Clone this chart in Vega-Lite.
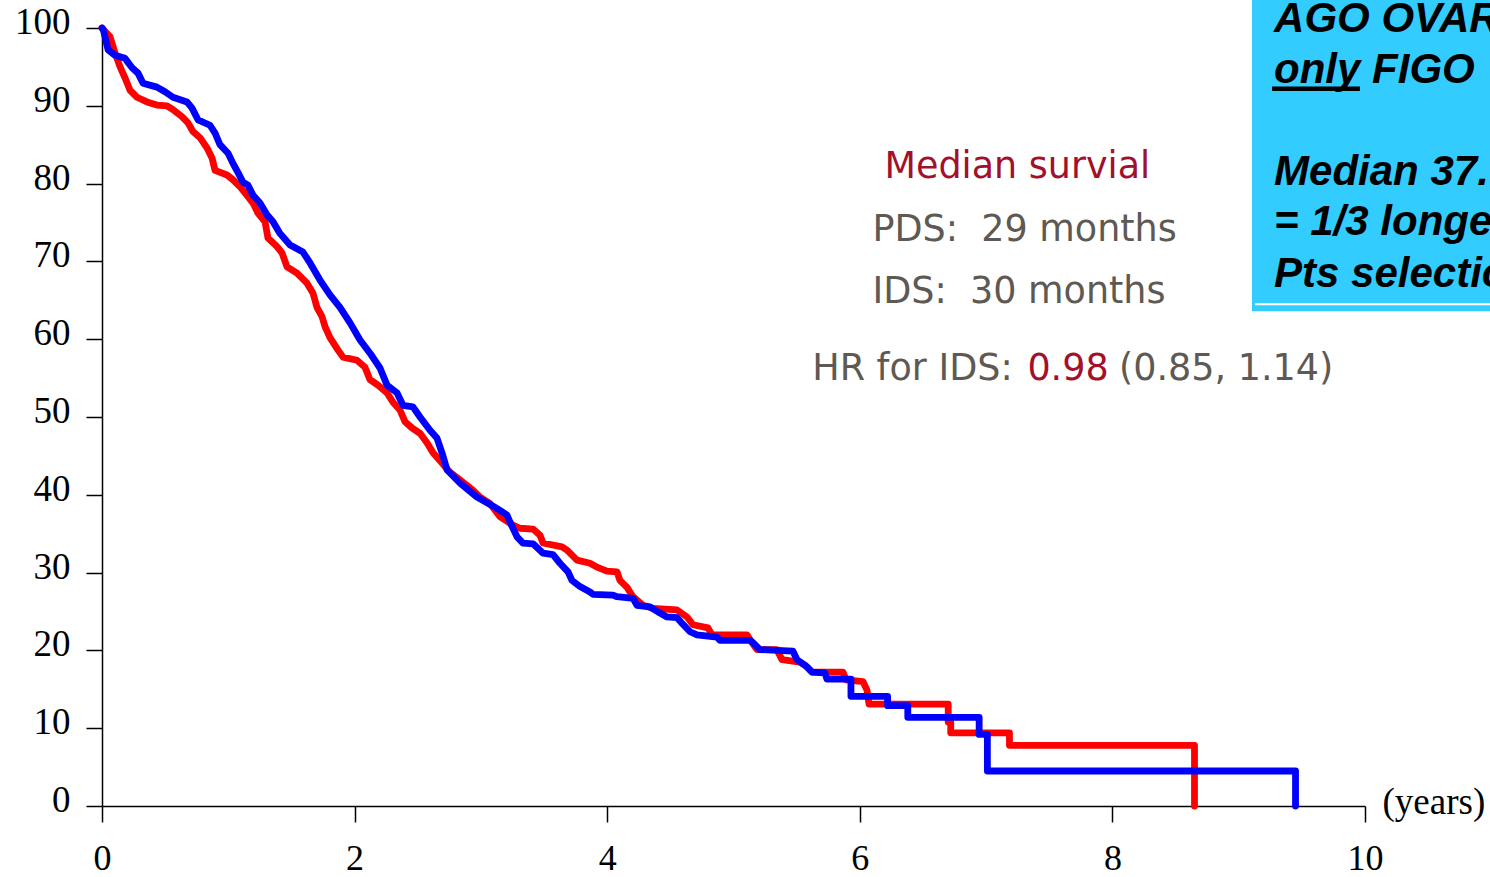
{
  "$schema": "https://vega.github.io/schema/vega-lite/v6.json",
  "width": 1263,
  "height": 778,
  "autosize": {"type": "none"},
  "padding": {"left": 102, "top": 28, "right": 125, "bottom": 71},
  "background": "white",
  "config": {
    "view": {"stroke": null},
    "axis": {
      "grid": false,
      "domainColor": "#000000",
      "domainWidth": 1.5,
      "tickColor": "#000000",
      "tickWidth": 1.5,
      "tickSize": 16,
      "labelFont": "Liberation Serif",
      "labelFontSize": 37,
      "labelColor": "#000000",
      "labelOverlap": false,
      "labelFlush": false
    }
  },
  "datasets": {
    "survival": [
      {"arm": "PDS", "year": 0, "pct": 100},
      {"arm": "PDS", "year": 0.063, "pct": 98.9},
      {"arm": "PDS", "year": 0.103, "pct": 96.8},
      {"arm": "PDS", "year": 0.143, "pct": 95.0},
      {"arm": "PDS", "year": 0.182, "pct": 93.6},
      {"arm": "PDS", "year": 0.222, "pct": 92.0},
      {"arm": "PDS", "year": 0.277, "pct": 91.1},
      {"arm": "PDS", "year": 0.356, "pct": 90.5},
      {"arm": "PDS", "year": 0.435, "pct": 90.1},
      {"arm": "PDS", "year": 0.515, "pct": 90.0},
      {"arm": "PDS", "year": 0.562, "pct": 89.5},
      {"arm": "PDS", "year": 0.633, "pct": 88.6},
      {"arm": "PDS", "year": 0.681, "pct": 87.8},
      {"arm": "PDS", "year": 0.72, "pct": 86.7},
      {"arm": "PDS", "year": 0.776, "pct": 85.9},
      {"arm": "PDS", "year": 0.831, "pct": 84.6},
      {"arm": "PDS", "year": 0.871, "pct": 83.3},
      {"arm": "PDS", "year": 0.895, "pct": 81.7},
      {"arm": "PDS", "year": 0.99, "pct": 81.1},
      {"arm": "PDS", "year": 1.037, "pct": 80.5},
      {"arm": "PDS", "year": 1.093, "pct": 79.6},
      {"arm": "PDS", "year": 1.148, "pct": 78.5},
      {"arm": "PDS", "year": 1.196, "pct": 77.5},
      {"arm": "PDS", "year": 1.235, "pct": 76.2},
      {"arm": "PDS", "year": 1.291, "pct": 75.1},
      {"arm": "PDS", "year": 1.314, "pct": 73.0},
      {"arm": "PDS", "year": 1.386, "pct": 71.9},
      {"arm": "PDS", "year": 1.425, "pct": 71.1},
      {"arm": "PDS", "year": 1.465, "pct": 69.3},
      {"arm": "PDS", "year": 1.544, "pct": 68.5},
      {"arm": "PDS", "year": 1.623, "pct": 67.2},
      {"arm": "PDS", "year": 1.671, "pct": 65.9},
      {"arm": "PDS", "year": 1.702, "pct": 64.1},
      {"arm": "PDS", "year": 1.742, "pct": 62.9},
      {"arm": "PDS", "year": 1.766, "pct": 61.6},
      {"arm": "PDS", "year": 1.805, "pct": 60.2},
      {"arm": "PDS", "year": 1.869, "pct": 58.6},
      {"arm": "PDS", "year": 1.908, "pct": 57.7},
      {"arm": "PDS", "year": 2.019, "pct": 57.3},
      {"arm": "PDS", "year": 2.082, "pct": 56.4},
      {"arm": "PDS", "year": 2.122, "pct": 54.8},
      {"arm": "PDS", "year": 2.185, "pct": 54.1},
      {"arm": "PDS", "year": 2.257, "pct": 53.1},
      {"arm": "PDS", "year": 2.304, "pct": 51.9},
      {"arm": "PDS", "year": 2.359, "pct": 50.9},
      {"arm": "PDS", "year": 2.399, "pct": 49.4},
      {"arm": "PDS", "year": 2.454, "pct": 48.6},
      {"arm": "PDS", "year": 2.518, "pct": 47.9},
      {"arm": "PDS", "year": 2.573, "pct": 46.7},
      {"arm": "PDS", "year": 2.621, "pct": 45.4},
      {"arm": "PDS", "year": 2.692, "pct": 44.1},
      {"arm": "PDS", "year": 2.755, "pct": 42.9},
      {"arm": "PDS", "year": 2.835, "pct": 41.9},
      {"arm": "PDS", "year": 2.937, "pct": 40.6},
      {"arm": "PDS", "year": 2.993, "pct": 39.7},
      {"arm": "PDS", "year": 3.07, "pct": 38.9},
      {"arm": "PDS", "year": 3.151, "pct": 37.2},
      {"arm": "PDS", "year": 3.254, "pct": 36.1},
      {"arm": "PDS", "year": 3.31, "pct": 35.7},
      {"arm": "PDS", "year": 3.413, "pct": 35.6},
      {"arm": "PDS", "year": 3.468, "pct": 34.8},
      {"arm": "PDS", "year": 3.492, "pct": 33.8},
      {"arm": "PDS", "year": 3.642, "pct": 33.3},
      {"arm": "PDS", "year": 3.682, "pct": 32.9},
      {"arm": "PDS", "year": 3.761, "pct": 31.6},
      {"arm": "PDS", "year": 3.864, "pct": 31.2},
      {"arm": "PDS", "year": 3.919, "pct": 30.7},
      {"arm": "PDS", "year": 3.998, "pct": 30.2},
      {"arm": "PDS", "year": 4.078, "pct": 30.1},
      {"arm": "PDS", "year": 4.101, "pct": 29.0},
      {"arm": "PDS", "year": 4.157, "pct": 28.1},
      {"arm": "PDS", "year": 4.204, "pct": 26.9},
      {"arm": "PDS", "year": 4.284, "pct": 25.8},
      {"arm": "PDS", "year": 4.363, "pct": 25.4},
      {"arm": "PDS", "year": 4.553, "pct": 25.2},
      {"arm": "PDS", "year": 4.632, "pct": 24.3},
      {"arm": "PDS", "year": 4.679, "pct": 23.3},
      {"arm": "PDS", "year": 4.798, "pct": 22.9},
      {"arm": "PDS", "year": 4.83, "pct": 22.0},
      {"arm": "PDS", "year": 5.107, "pct": 22.0},
      {"arm": "PDS", "year": 5.146, "pct": 21.0},
      {"arm": "PDS", "year": 5.186, "pct": 20.1},
      {"arm": "PDS", "year": 5.344, "pct": 20.1},
      {"arm": "PDS", "year": 5.384, "pct": 18.8},
      {"arm": "PDS", "year": 5.526, "pct": 18.5},
      {"arm": "PDS", "year": 5.582, "pct": 17.9},
      {"arm": "PDS", "year": 5.622, "pct": 17.2},
      {"arm": "PDS", "year": 5.867, "pct": 17.2},
      {"arm": "PDS", "year": 5.891, "pct": 16.2},
      {"arm": "PDS", "year": 6.025, "pct": 16.0},
      {"arm": "PDS", "year": 6.057, "pct": 14.9},
      {"arm": "PDS", "year": 6.073, "pct": 13.1},
      {"arm": "PDS", "year": 6.7, "pct": 13.1},
      {"arm": "PDS", "year": 6.7, "pct": 10.8},
      {"arm": "PDS", "year": 6.72, "pct": 10.8},
      {"arm": "PDS", "year": 6.72, "pct": 9.4},
      {"arm": "PDS", "year": 7.185, "pct": 9.4},
      {"arm": "PDS", "year": 7.185, "pct": 7.8},
      {"arm": "PDS", "year": 8.65, "pct": 7.8},
      {"arm": "PDS", "year": 8.65, "pct": 0},
      {"arm": "IDS", "year": 0, "pct": 100},
      {"arm": "IDS", "year": 0.01, "pct": 99.8},
      {"arm": "IDS", "year": 0.048, "pct": 97.2},
      {"arm": "IDS", "year": 0.103, "pct": 96.5},
      {"arm": "IDS", "year": 0.182, "pct": 96.1},
      {"arm": "IDS", "year": 0.238, "pct": 94.9},
      {"arm": "IDS", "year": 0.285, "pct": 94.2},
      {"arm": "IDS", "year": 0.325, "pct": 92.9},
      {"arm": "IDS", "year": 0.435, "pct": 92.4},
      {"arm": "IDS", "year": 0.499, "pct": 91.8},
      {"arm": "IDS", "year": 0.562, "pct": 91.1},
      {"arm": "IDS", "year": 0.673, "pct": 90.5},
      {"arm": "IDS", "year": 0.713, "pct": 89.7},
      {"arm": "IDS", "year": 0.76, "pct": 88.2},
      {"arm": "IDS", "year": 0.855, "pct": 87.5},
      {"arm": "IDS", "year": 0.895, "pct": 86.5},
      {"arm": "IDS", "year": 0.934, "pct": 85.0},
      {"arm": "IDS", "year": 0.998, "pct": 83.9},
      {"arm": "IDS", "year": 1.037, "pct": 82.6},
      {"arm": "IDS", "year": 1.077, "pct": 81.4},
      {"arm": "IDS", "year": 1.116, "pct": 80.2},
      {"arm": "IDS", "year": 1.156, "pct": 79.8},
      {"arm": "IDS", "year": 1.196, "pct": 78.5},
      {"arm": "IDS", "year": 1.251, "pct": 77.5},
      {"arm": "IDS", "year": 1.306, "pct": 76.0},
      {"arm": "IDS", "year": 1.354, "pct": 75.1},
      {"arm": "IDS", "year": 1.409, "pct": 73.6},
      {"arm": "IDS", "year": 1.489, "pct": 72.1},
      {"arm": "IDS", "year": 1.591, "pct": 71.2},
      {"arm": "IDS", "year": 1.647, "pct": 69.8},
      {"arm": "IDS", "year": 1.726, "pct": 67.6},
      {"arm": "IDS", "year": 1.805, "pct": 65.7},
      {"arm": "IDS", "year": 1.884, "pct": 64.1},
      {"arm": "IDS", "year": 1.964, "pct": 62.1},
      {"arm": "IDS", "year": 2.043, "pct": 59.9},
      {"arm": "IDS", "year": 2.122, "pct": 58.2},
      {"arm": "IDS", "year": 2.201, "pct": 56.3},
      {"arm": "IDS", "year": 2.257, "pct": 54.1},
      {"arm": "IDS", "year": 2.336, "pct": 53.1},
      {"arm": "IDS", "year": 2.383, "pct": 51.5},
      {"arm": "IDS", "year": 2.462, "pct": 51.3},
      {"arm": "IDS", "year": 2.518, "pct": 50.0},
      {"arm": "IDS", "year": 2.597, "pct": 48.3},
      {"arm": "IDS", "year": 2.652, "pct": 47.3},
      {"arm": "IDS", "year": 2.692, "pct": 45.4},
      {"arm": "IDS", "year": 2.732, "pct": 43.2},
      {"arm": "IDS", "year": 2.835, "pct": 41.5},
      {"arm": "IDS", "year": 2.969, "pct": 39.7},
      {"arm": "IDS", "year": 3.08, "pct": 38.7},
      {"arm": "IDS", "year": 3.151, "pct": 38.0},
      {"arm": "IDS", "year": 3.207, "pct": 37.4},
      {"arm": "IDS", "year": 3.23, "pct": 36.5},
      {"arm": "IDS", "year": 3.286, "pct": 34.6},
      {"arm": "IDS", "year": 3.333, "pct": 33.8},
      {"arm": "IDS", "year": 3.413, "pct": 33.7},
      {"arm": "IDS", "year": 3.492, "pct": 32.5},
      {"arm": "IDS", "year": 3.571, "pct": 32.3},
      {"arm": "IDS", "year": 3.626, "pct": 31.2},
      {"arm": "IDS", "year": 3.69, "pct": 30.1},
      {"arm": "IDS", "year": 3.721, "pct": 29.0},
      {"arm": "IDS", "year": 3.785, "pct": 28.2},
      {"arm": "IDS", "year": 3.864, "pct": 27.5},
      {"arm": "IDS", "year": 3.888, "pct": 27.2},
      {"arm": "IDS", "year": 4.046, "pct": 27.1},
      {"arm": "IDS", "year": 4.078, "pct": 26.9},
      {"arm": "IDS", "year": 4.204, "pct": 26.7},
      {"arm": "IDS", "year": 4.236, "pct": 25.8},
      {"arm": "IDS", "year": 4.339, "pct": 25.6},
      {"arm": "IDS", "year": 4.418, "pct": 24.8},
      {"arm": "IDS", "year": 4.473, "pct": 24.3},
      {"arm": "IDS", "year": 4.553, "pct": 24.2},
      {"arm": "IDS", "year": 4.592, "pct": 23.5},
      {"arm": "IDS", "year": 4.656, "pct": 22.4},
      {"arm": "IDS", "year": 4.711, "pct": 22.0},
      {"arm": "IDS", "year": 4.869, "pct": 21.7},
      {"arm": "IDS", "year": 4.893, "pct": 21.3},
      {"arm": "IDS", "year": 5.131, "pct": 21.3},
      {"arm": "IDS", "year": 5.154, "pct": 21.0},
      {"arm": "IDS", "year": 5.21, "pct": 20.1},
      {"arm": "IDS", "year": 5.471, "pct": 19.9},
      {"arm": "IDS", "year": 5.503, "pct": 18.8},
      {"arm": "IDS", "year": 5.566, "pct": 18.1},
      {"arm": "IDS", "year": 5.622, "pct": 17.2},
      {"arm": "IDS", "year": 5.724, "pct": 17.1},
      {"arm": "IDS", "year": 5.74, "pct": 16.3},
      {"arm": "IDS", "year": 5.93, "pct": 16.3},
      {"arm": "IDS", "year": 5.93, "pct": 14.1},
      {"arm": "IDS", "year": 6.22, "pct": 14.1},
      {"arm": "IDS", "year": 6.22, "pct": 12.9},
      {"arm": "IDS", "year": 6.38, "pct": 12.9},
      {"arm": "IDS", "year": 6.38, "pct": 11.4},
      {"arm": "IDS", "year": 6.945, "pct": 11.4},
      {"arm": "IDS", "year": 6.945, "pct": 9.2},
      {"arm": "IDS", "year": 7.01, "pct": 9.2},
      {"arm": "IDS", "year": 7.01, "pct": 4.5},
      {"arm": "IDS", "year": 9.45, "pct": 4.5},
      {"arm": "IDS", "year": 9.45, "pct": 0}
    ],
    "greyNotes": [
      {"text": "PDS:\u00a0\u00a029 months", "year": 6.1, "pct": 72.66},
      {"text": "IDS:\u00a0\u00a030 months", "year": 6.1, "pct": 64.61},
      {"text": "HR for IDS:", "year": 5.623, "pct": 54.76},
      {"text": "(0.85, 1.14)", "year": 8.052, "pct": 54.76}
    ],
    "redNotes": [
      {"text": "Median survial", "year": 6.195, "pct": 80.68},
      {"text": "0.98", "year": 7.327, "pct": 54.76}
    ],
    "boxLines": [
      {"text": "AGO OVAR", "year": 9.28, "pct": 99.5},
      {"text": "only FIGO", "year": 9.28, "pct": 92.9},
      {"text": "Median 37.", "year": 9.28, "pct": 79.8},
      {"text": "= 1/3 longer", "year": 9.28, "pct": 73.4},
      {"text": "Pts selection", "year": 9.28, "pct": 66.7}
    ]
  },
  "encoding": {
    "x": {
      "field": "year",
      "type": "quantitative",
      "scale": {"domain": [0, 10], "nice": false, "zero": false},
      "axis": {
        "values": [0, 2, 4, 6, 8, 10],
        "labelPadding": 19,
        "labelFontSize": 36,
        "title": "(years)",
        "titleFont": "Liberation Serif",
        "titleFontSize": 37,
        "titleFontWeight": "normal",
        "titleColor": "#000000",
        "titleAlign": "left",
        "titleBaseline": "middle",
        "titleAngle": 0,
        "titleX": 1280,
        "titleY": -4
      }
    },
    "y": {
      "field": "pct",
      "type": "quantitative",
      "scale": {"domain": [0, 100], "nice": false},
      "axis": {
        "values": [0, 10, 20, 30, 40, 50, 60, 70, 80, 90, 100],
        "labelPadding": 16,
        "labelOffset": -5.5,
        "title": null
      }
    }
  },
  "layer": [
    {
      "data": {"values": [{"year": 9.105, "year2": 11.2, "pct": 63.6, "pct2": 105}]},
      "mark": {"type": "rect", "color": "#33CCFF", "clip": false},
      "encoding": {"x2": {"field": "year2"}, "y2": {"field": "pct2"}}
    },
    {
      "data": {"values": [{"year": 9.13, "year2": 11.2, "pct": 64.5}]},
      "mark": {"type": "rule", "color": "#FFFFFF", "strokeWidth": 2, "clip": false},
      "encoding": {"x2": {"field": "year2"}}
    },
    {
      "data": {"name": "boxLines"},
      "mark": {
        "type": "text",
        "align": "left",
        "baseline": "alphabetic",
        "font": "Liberation Sans",
        "fontSize": 42,
        "fontWeight": "bold",
        "fontStyle": "italic",
        "color": "#000000",
        "clip": false
      },
      "encoding": {"text": {"field": "text"}}
    },
    {
      "data": {"values": [{"year": 9.264, "year2": 9.96, "pct": 92.2}]},
      "mark": {"type": "rule", "color": "#000000", "strokeWidth": 4.5, "clip": false},
      "encoding": {"x2": {"field": "year2"}}
    },
    {
      "data": {"name": "survival"},
      "mark": {"type": "line", "strokeWidth": 6.8, "strokeJoin": "round", "strokeCap": "round", "clip": false},
      "encoding": {
        "color": {
          "field": "arm",
          "type": "nominal",
          "scale": {"domain": ["PDS", "IDS"], "range": ["#FF0000", "#0000FF"]},
          "legend": null
        }
      }
    },
    {
      "data": {"name": "greyNotes"},
      "mark": {
        "type": "text",
        "align": "left",
        "baseline": "alphabetic",
        "font": "DejaVu Sans",
        "fontSize": 36.5,
        "color": "#5E5952",
        "clip": false
      },
      "encoding": {"text": {"field": "text"}}
    },
    {
      "data": {"name": "redNotes"},
      "mark": {
        "type": "text",
        "align": "left",
        "baseline": "alphabetic",
        "font": "DejaVu Sans",
        "fontSize": 36.5,
        "color": "#A3102B",
        "clip": false
      },
      "encoding": {"text": {"field": "text"}}
    }
  ]
}
